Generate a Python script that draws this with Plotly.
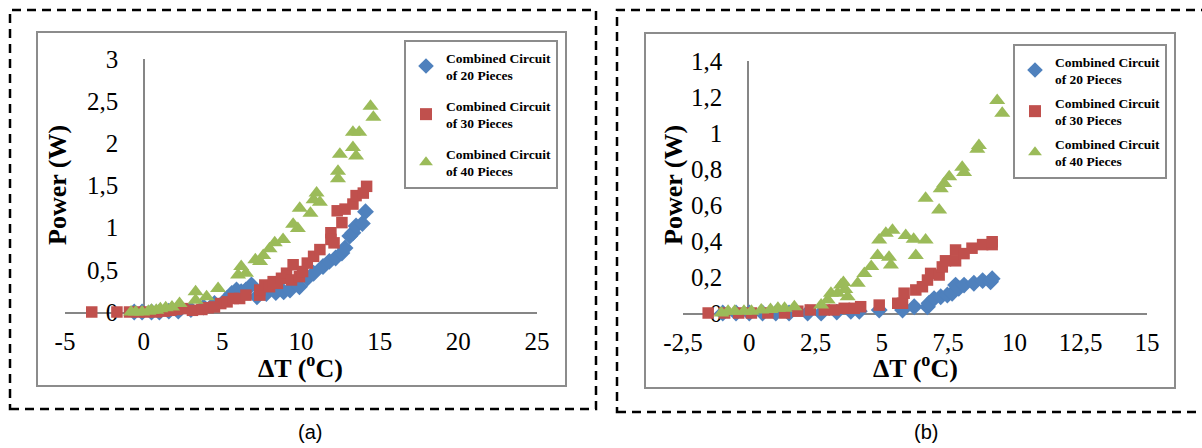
import plotly.graph_objects as go

W, H = 1202, 448

# ---------------- data (a) ----------------
x20a = [-0.6, -0.1, 0.5, 1.0, 1.6, 2.2, 3.0, 3.8, 4.5, 5.3, 5.6, 5.9, 6.2, 6.5, 6.85, 7.2, 7.8, 8.4, 8.9, 9.3,
        9.9, 10.4, 10.8, 11.4, 11.8, 12.2, 12.6, 12.8, 13.1, 13.3, 13.5, 13.9, 14.1]
y20a = [0, 0, 0, 0, 0.01, 0.01, 0.03, 0.06, 0.1, 0.16, 0.22, 0.26, 0.24, 0.26, 0.32, 0.18, 0.22, 0.23, 0.24, 0.26,
        0.3, 0.4, 0.46, 0.54, 0.6, 0.64, 0.7, 0.76, 0.9, 0.94, 1.02, 1.05, 1.19]
x30a = [-3.3, -1.7, -0.9, -0.3, 0.2, 0.8, 1.3, 1.73, 2.1, 2.5, 3.1, 3.7, 4.1, 4.5, 4.9, 5.3, 5.7, 6.1, 6.5,
        7.38, 7.38, 7.7, 8.0, 8.23, 8.5, 8.76, 9.08, 9.4, 9.5, 9.9, 10.1, 10.4, 10.8, 11.2, 11.9, 11.9, 12.1,
        12.3, 12.6, 12.8, 13.3, 13.5, 13.96, 14.17]
y30a = [0, 0, 0, 0, 0, 0, 0.01, 0.02, 0.03, 0.04, 0.02, 0.03, 0.05, 0.06, 0.1, 0.12, 0.16, 0.16, 0.2,
        0.2, 0.26, 0.32, 0.3, 0.36, 0.34, 0.4, 0.46, 0.38, 0.56, 0.42, 0.48, 0.58, 0.66, 0.74, 0.94, 0.86, 0.82,
        1.2, 1.06, 1.22, 1.28, 1.38, 1.41, 1.49]
x40a = [-0.8, -0.5, -0.1, 0.3, 0.5, 0.8, 1.06, 1.4, 1.8, 2.28, 3.3, 3.3, 4.0, 4.73, 6.0, 6.2, 6.5, 7.1, 7.4,
        7.6, 8.0, 8.33, 8.86, 9.5, 9.8, 9.92, 10.6, 10.8, 10.99, 11.2, 12.35, 12.35, 12.47, 13.3, 13.5, 13.3,
        13.7, 14.42, 14.6]
y40a = [0, 0, 0, 0.01, 0.02, 0.02, 0.04, 0.05, 0.06, 0.1, 0.14, 0.24, 0.18, 0.28, 0.44, 0.54, 0.46, 0.62, 0.6,
        0.67, 0.75, 0.82, 0.86, 1.04, 0.99, 1.23, 1.17, 1.33, 1.41, 1.30, 1.58, 1.67, 1.87, 1.95, 1.85, 2.13,
        2.13, 2.44, 2.31]

# ---------------- data (b) ----------------
x20b = [-1.0, -0.5, 0.0, 0.5, 1.0, 1.5, 2.2, 2.71, 3.3, 3.83, 4.15, 4.9, 5.78, 6.22, 6.72, 6.78, 6.97, 7.22,
        7.47, 7.65, 7.78, 7.9, 8.1, 8.47, 8.8, 9.1, 9.16]
y20b = [0, 0, 0, 0, 0, 0, 0, 0, 0.005, 0.01, 0.01, 0.017, 0.017, 0.035, 0.035, 0.054, 0.08, 0.09,
        0.1, 0.11, 0.155, 0.137, 0.155, 0.165, 0.18, 0.174, 0.19]
x30b = [-1.55, -0.93, -0.4, 0.08, 0.7, 1.33, 1.83, 2.3, 2.83, 3.2, 3.58, 3.96, 4.2, 4.9, 5.6, 5.78, 5.84,
        6.28, 6.53, 6.72, 6.84, 7.16, 7.28, 7.4, 7.78, 7.78, 8.1, 8.4, 8.8, 9.16, 9.16]
y30b = [0, 0, 0, 0, 0, 0, 0.01, 0.017, 0.017, 0.017, 0.026, 0.026, 0.035, 0.044, 0.054, 0.054, 0.11,
        0.128, 0.146, 0.183, 0.22, 0.211, 0.256, 0.29, 0.29, 0.35, 0.33, 0.36, 0.38, 0.38, 0.396]
x40b = [-1.05, -0.8, -0.55, -0.2, 0.08, 0.45, 0.8, 1.08, 1.33, 1.7, 2.71, 2.96, 3.08, 3.33, 3.46, 3.55, 3.62,
        3.71, 4.09, 4.34, 4.6, 4.84, 4.9, 5.15, 5.27, 5.34, 5.4, 5.9, 6.2, 6.28, 6.65, 6.65, 7.16, 7.22, 7.35,
        7.54, 8.03, 8.1, 8.6, 8.66, 9.35, 9.54]
y40b = [0, 0.01, 0.01, 0.01, 0.01, 0.017, 0.02, 0.026, 0.026, 0.035, 0.044, 0.072, 0.11, 0.11, 0.155, 0.17,
        0.13, 0.09, 0.165, 0.22, 0.258, 0.32, 0.405, 0.443, 0.31, 0.267, 0.46, 0.43, 0.41, 0.32, 0.405, 0.637,
        0.572, 0.69, 0.72, 0.757, 0.81, 0.78, 0.91, 0.93, 1.18, 1.11]

names = ["Combined Circuit<br>of 20 Pieces", "Combined Circuit<br>of 30 Pieces", "Combined Circuit<br>of 40 Pieces"]

xtick_a = [-5, 0, 5, 10, 15, 20, 25]
xtext_a = ["-5", "0", "5", "10", "15", "20", "25"]
ytick_a = [0, 0.5, 1, 1.5, 2, 2.5, 3]
ytext_a = ["0", "0,5", "1", "1,5", "2", "2,5", "3"]
xtick_b = [-2.5, 0, 2.5, 5, 7.5, 10, 12.5, 15]
xtext_b = ["-2,5", "0", "2,5", "5", "7,5", "10", "12,5", "15"]
ytick_b = [0, 0.2, 0.4, 0.6, 0.8, 1, 1.2, 1.4]
ytext_b = ["0", "0,2", "0,4", "0,6", "0,8", "1", "1,2", "1,4"]

colors = ["#4F81BD", "#C0504D", "#9BBB59"]
symbols = ["diamond", "square", "triangle-up"]
sizes = [13, 11.5, 14]

fig = go.Figure()
sets = [
    ("x", "y", "legend", [(x20a, y20a), (x30a, y30a), (x40a, y40a)]),
    ("x2", "y2", "legend2", [(x20b, y20b), (x30b, y30b), (x40b, y40b)]),
]
for xa, ya, lg, series in sets:
    for i, (xs, ys) in enumerate(series):
        fig.add_trace(go.Scatter(
            x=xs, y=ys, mode="markers", xaxis=xa, yaxis=ya, legend=lg,
            name="<b>" + names[i] + "</b>", legendgroup=lg + str(i),
            marker=dict(symbol=symbols[i], size=sizes[i], color=colors[i], line=dict(width=0)),
            cliponaxis=False,
        ))

serif = "Liberation Serif"
sans = "Liberation Sans"
axis_col = "#868686"

def xax(dom, rng, tv, tt, anchor):
    return dict(domain=dom, range=rng, tickvals=tv, ticktext=tt, showgrid=False, zeroline=False,
                showline=True, linecolor=axis_col, linewidth=1.5, ticks="", anchor=anchor,
                tickfont=dict(family=serif, size=25, color="black"), layer="below traces",
                ticklabelstandoff=6, fixedrange=True, automargin=False)

def yax(dom, rng, tv, tt, pos):
    return dict(domain=dom, range=rng, tickvals=tv, ticktext=tt, showgrid=False, zeroline=False,
                showline=True, linecolor=axis_col, linewidth=1.5, ticks="", anchor="free", position=pos,
                tickfont=dict(family=serif, size=25, color="black"), layer="below traces",
                ticklabelstandoff=20, fixedrange=True, automargin=False)

fig.update_layout(
    template="none",
    width=W, height=H, margin=dict(l=0, r=0, t=0, b=0, pad=0, autoexpand=False),
    paper_bgcolor="white", plot_bgcolor="rgba(0,0,0,0)",
    font=dict(family=serif, color="black"),
    xaxis=xax([65 / W, 537 / W], [-5, 25], xtick_a, xtext_a, "y"),
    yaxis=yax([1 - 312 / H, 1 - 59 / H], [0, 3], ytick_a, ytext_a, 144 / W),
    xaxis2=xax([683 / W, 1147 / W], [-2.5, 15], xtick_b, xtext_b, "y2"),
    yaxis2=yax([1 - 313 / H, 1 - 61 / H], [0, 1.4], ytick_b, ytext_b, 748 / W),
    legend=dict(x=404 / W, y=1 - 40 / H, xanchor="left", yanchor="top", bgcolor="white",
                bordercolor="#8C8C8C", borderwidth=2, font=dict(family=serif, size=13.5, color="black"),
                tracegroupgap=10, itemsizing="constant"),
    legend2=dict(x=1013 / W, y=1 - 44 / H, xanchor="left", yanchor="top", bgcolor="white",
                 bordercolor="#8C8C8C", borderwidth=2, font=dict(family=serif, size=13.5, color="black"),
                 tracegroupgap=3, itemsizing="constant"),
    showlegend=True,
)

def frame(x0, y0, x1, y1, color, width, dash=None):
    line = dict(color=color, width=width)
    if dash:
        line["dash"] = dash
    fig.add_shape(type="rect", xref="paper", yref="paper", x0=x0 / W, x1=x1 / W,
                  y0=1 - y1 / H, y1=1 - y0 / H, line=line, fillcolor="rgba(0,0,0,0)", layer="below")

frame(37, 32, 566, 386, "#8C8C8C", 2)
frame(645, 33, 1175, 388, "#8C8C8C", 2)
frame(10, 10, 596, 409, "black", 2.5, "9px,6px")
frame(617, 10, 1215, 412, "black", 2.5, "9px,6px")

def ann(text, x, y, size, angle=0, family=serif):
    fig.add_annotation(text=text, xref="paper", yref="paper", x=x / W, y=1 - y / H,
                       showarrow=False, textangle=angle, xanchor="center", yanchor="middle",
                       font=dict(family=family, size=size, color="black"))

ann("<b>Power (W)</b>", 57, 185, 26, -90)
ann("<b>Power (W)</b>", 673, 185, 26, -90)
ann("<b>ΔT (<sup>o</sup>C)</b>", 300, 366, 26)
ann("<b>ΔT (<sup>o</sup>C)</b>", 915, 366, 26)
ann("(a)", 310, 432, 20, 0, sans)
ann("(b)", 926, 432, 20, 0, sans)

fig.write_html("out.html")
